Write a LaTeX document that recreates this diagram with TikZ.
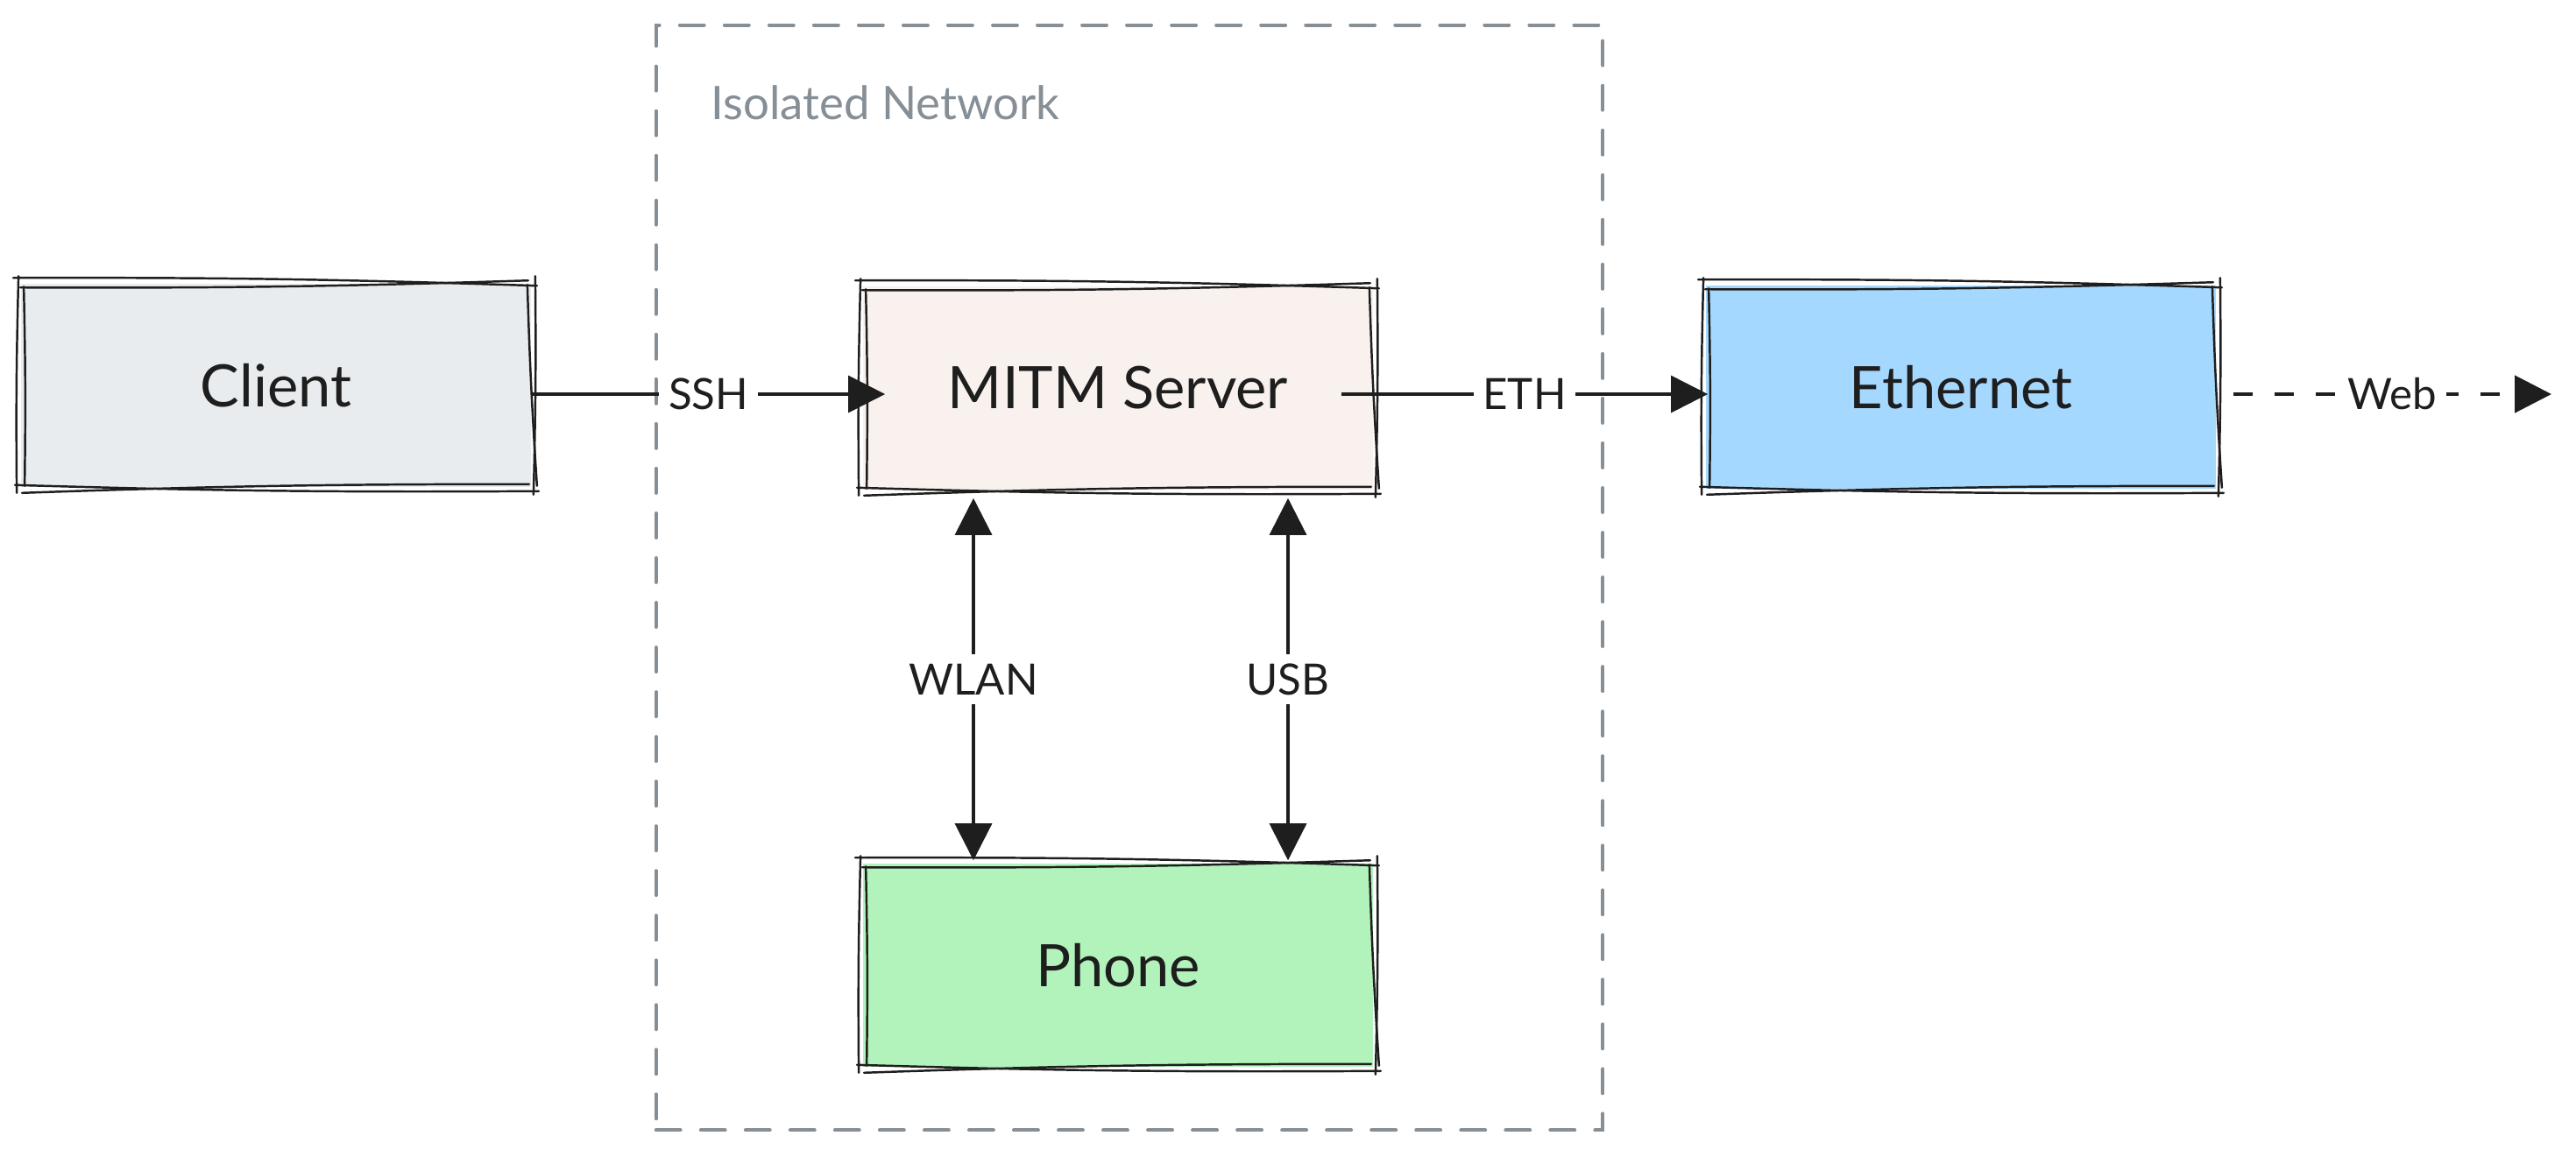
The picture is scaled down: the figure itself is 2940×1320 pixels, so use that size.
\documentclass[tikz,border=0pt]{standalone}
\usepackage{fontspec}
\setmainfont{Lato}
\usetikzlibrary{arrows.meta,calc}
\definecolor{ink}{HTML}{1E1E1E}
\definecolor{grpc}{HTML}{868E96}
\definecolor{cgray}{HTML}{E9ECEF}
\definecolor{cpeach}{HTML}{F8F1EE}
\definecolor{cblue}{HTML}{A5D8FF}
\definecolor{cgreen}{HTML}{B2F2BB}
\tikzset{
 box/.style={minimum width=5.82cm, minimum height=2.32cm, inner sep=0pt, font=\fontsize{19}{23}\selectfont, text=ink},
 sk/.style={draw=ink, line width=0.7pt, line cap=round},
 conn/.style={draw=ink, line width=0.9pt, -{Triangle[length=4.2mm,width=4.2mm]}},
 both/.style={draw=ink, line width=0.9pt, {Triangle[length=4.2mm,width=4.2mm]}-{Triangle[length=4.2mm,width=4.2mm]}},
 webconn/.style={draw=ink, line width=1.4pt, dash pattern=on 0.22cm off 0.25cm, -{Triangle[length=4.2mm,width=4.2mm]}},
 elabel/.style={fill=white, inner sep=3pt, font=\fontsize{14}{17}\selectfont, text=ink},
 grpbox/.style={draw=grpc, line width=1.1pt, dash pattern=on 0.28cm off 0.23cm, line cap=round, minimum width=10.8cm, minimum height=12.61cm, inner sep=0pt},
}
\newcommand{\roughbox}[1]{%
 \draw[sk] ($(#1.north west)+(-8,-6)$) to[bend left=1] ($(#1.north east)+(6,3)$);
 \draw[sk] ($(#1.north west)+(0,5)$) to[bend right=1] ($(#1.north east)+(-4,-3)$);
 \draw[sk] ($(#1.north east)+(4,-8)$) to[bend left=1] ($(#1.south east)+(2,8)$);
 \draw[sk] ($(#1.north east)+(-5,2)$) to[bend right=1] ($(#1.south east)+(6,-2)$);
 \draw[sk] ($(#1.south east)+(8,4)$) to[bend left=1] ($(#1.south west)+(-6,-3)$);
 \draw[sk] ($(#1.south east)+(-3,-4)$) to[bend right=1] ($(#1.south west)+(2,6)$);
 \draw[sk] ($(#1.south west)+(-4,6)$) to[bend left=1] ($(#1.north west)+(-2,-8)$);
 \draw[sk] ($(#1.south west)+(5,-2)$) to[bend right=1] ($(#1.north west)+(4,4)$);
}
\begin{document}
\begin{tikzpicture}[x=0.01cm,y=-0.01cm]
\useasboundingbox (0,0) rectangle (2940,1320);
\node[grpbox] (grp) at (1289,659.5) {};
\node[anchor=west, text=grpc, font=\fontsize{15}{18}\selectfont, inner sep=0pt] (iso) at (811,117) {Isolated Network};

\node[box, fill=cgray] (client) at (315,440) {Client};
\node[box, fill=cpeach] (mitm) at (1276,443) {MITM Server};
\node[box, fill=cblue] (eth) at (2238,442) {Ethernet};
\node[box, fill=cgreen] (phone) at (1276,1102) {Phone};
\roughbox{client}
\roughbox{mitm}
\roughbox{eth}
\roughbox{phone}

\coordinate (row) at ($(client.east)+(0,10)$);
\coordinate (webend) at (2912,450);
\draw[conn] (row) -- ($(mitm.west |- row)+(26,0)$) node[elabel, midway] (ssh) {SSH};
\draw[conn] ($(mitm.east |- row)+(-37,0)$) -- ($(eth.west |- row)+(3,0)$) node[elabel, midway] (ethl) {ETH};
\draw[webconn] ($(eth.east |- row)+(19,0)$) -- (webend) node[elabel, midway] (web) {Web};

\draw[both] ($(mitm.south)+(-165,9)$) -- ($(phone.north)+(-165,-3)$) node[elabel, midway] (wlan) {WLAN};
\draw[both] ($(mitm.south)+(194,9)$) -- ($(phone.north)+(194,-3)$) node[elabel, midway] (usb) {USB};
\end{tikzpicture}
\end{document}
